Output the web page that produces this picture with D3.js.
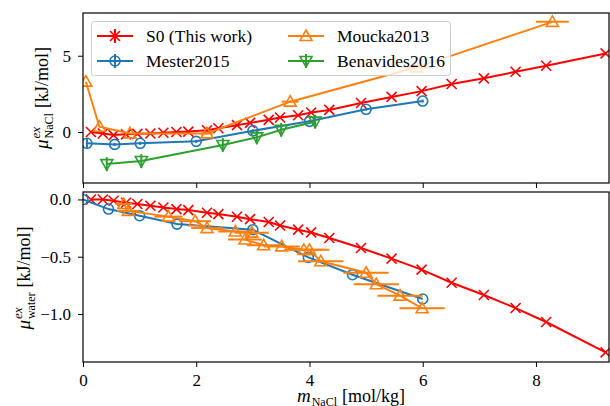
<!DOCTYPE html>
<html>
<head>
<meta charset="utf-8">
<script src="https://cdn.jsdelivr.net/npm/d3@7"></script>
<style>
  body { margin: 0; background: #fff; }
  text { font-family: "Liberation Serif", "DejaVu Serif", serif; fill: #000; }
</style>
</head>
<body>
<script>
// ---- data ----
// S0 (this work): same molalities in both panels
var s0X   = [0.14, 0.35, 0.54, 0.76, 0.96, 1.19, 1.42, 1.65, 1.86, 2.19, 2.39, 2.72, 2.95, 3.28, 3.48, 3.80, 4.03, 4.35, 4.91, 5.45, 5.98, 6.51, 7.08, 7.64, 8.18, 9.23];
var s0Salt  = [0.0, -0.1, -0.2, -0.15, -0.12, -0.1, -0.05, 0.0, 0.03, 0.12, 0.25, 0.45, 0.6, 0.8, 0.95, 1.1, 1.28, 1.45, 1.9, 2.3, 2.68, 3.15, 3.52, 3.95, 4.34, 5.15];
var s0Water = [0.0, 0.0, -0.011, -0.029, -0.040, -0.055, -0.070, -0.084, -0.093, -0.116, -0.128, -0.151, -0.172, -0.197, -0.227, -0.264, -0.288, -0.337, -0.424, -0.517, -0.613, -0.727, -0.834, -0.948, -1.070, -1.335];

// Mester2015
var mesSaltX = [0.07, 0.56, 1.01, 2.0, 3.0, 4.0, 5.0, 6.0];
var mesSalt  = [-0.74, -0.81, -0.74, -0.61, 0.08, 0.7, 1.49, 2.03];
var mesSaltErr = [0.3, 0.1, 0.1, 0.1, 0.1, 0.1, 0.1, 0.1];
var mesWaterX = [0.0, 0.45, 1.0, 1.66, 3.0, 3.98, 4.76, 6.0];
var mesWater  = [0.0, -0.084, -0.142, -0.215, -0.264, -0.506, -0.657, -0.869];

// Moucka2013 (horizontal error bars)
var mouSaltX = [0.05, 0.29, 0.83, 2.19, 3.66, 5.89, 8.29];
var mouSalt  = [3.3, 0.35, -0.09, -0.09, 1.99, 4.24, 7.22];
var mouSaltXErr = [0, 0, 0, 0.1, 0.15, 0.28, 0.29];
var mouWaterX = [0.72, 0.80, 1.51, 1.98, 2.19, 2.69, 2.98, 2.86, 3.19, 3.51, 3.90, 4.0, 4.2, 5.0, 5.18, 5.6, 5.99];
var mouWater  = [-0.04, -0.10, -0.15, -0.19, -0.25, -0.28, -0.29, -0.35, -0.40, -0.41, -0.44, -0.44, -0.54, -0.64, -0.74, -0.84, -0.95];
var mouWaterXErr = [0.15, 0.2, 0.25, 0.28, 0.28, 0.3, 0.3, 0.3, 0.3, 0.32, 0.35, 0.35, 0.4, 0.4, 0.4, 0.4, 0.4];

// Benavides2016 (vertical error bars)
var benX = [0.42, 1.03, 2.47, 3.07, 3.5, 4.1];
var benSalt = [-2.1, -1.9, -0.85, -0.35, 0.15, 0.68];
var benErr = [0.45, 0.45, 0.45, 0.45, 0.45, 0.45];

var xTicks = [0, 2, 4, 6, 8];
var saltTicks = [0, 5];
var waterTicks = [0.0, -0.5, -1.0];

var legendNames = ["S0 (This work)", "Mester2015", "Moucka2013", "Benavides2016"];

var red = "#ff0000", blue = "#1f77b4", orange = "#ff7f0e", green = "#2ca02c";

// ---- layout ----
var W = 610, H = 406;
var left = 83, right = 609;
var top1 = 13, bot1 = 183, top2 = 192, bot2 = 362;

var svg = d3.select("body").append("svg").attr("width", W).attr("height", H);

var x = d3.scaleLinear().domain([0, 9.29]).range([left, right]);
var y1 = d3.scaleLinear().domain([-3.34, 7.8]).range([bot1, top1]);
var y2 = d3.scaleLinear().domain([-1.419, 0.065]).range([bot2, top2]);

var defs = svg.append("defs");
defs.append("clipPath").attr("id", "c1").append("rect")
  .attr("x", left).attr("y", top1).attr("width", right - left).attr("height", bot1 - top1);
defs.append("clipPath").attr("id", "c2").append("rect")
  .attr("x", left).attr("y", top2).attr("width", right - left).attr("height", bot2 - top2);

// marker drawing
function drawMarker(g, kind, cx, cy, col) {
  if (kind == "x") {
    var s = 5;
    g.append("path").attr("d", "M" + (cx - s) + "," + (cy - s) + "L" + (cx + s) + "," + (cy + s) +
        "M" + (cx - s) + "," + (cy + s) + "L" + (cx + s) + "," + (cy - s))
      .attr("stroke", col).attr("stroke-width", 1.6).attr("fill", "none");
  } else if (kind == "o") {
    g.append("circle").attr("cx", cx).attr("cy", cy).attr("r", 5)
      .attr("stroke", col).attr("stroke-width", 1.6).attr("fill", "none");
  } else if (kind == "^") {
    var r = 6;
    g.append("path").attr("d", "M" + cx + "," + (cy - r) + "L" + (cx + r) + "," + (cy + r * 0.75) +
        "L" + (cx - r) + "," + (cy + r * 0.75) + "Z")
      .attr("stroke", col).attr("stroke-width", 1.6).attr("fill", "none");
  } else if (kind == "v") {
    var r2 = 6;
    g.append("path").attr("d", "M" + cx + "," + (cy + r2) + "L" + (cx + r2) + "," + (cy - r2 * 0.75) +
        "L" + (cx - r2) + "," + (cy - r2 * 0.75) + "Z")
      .attr("stroke", col).attr("stroke-width", 1.6).attr("fill", "none");
  }
}

function drawSeries(clip, ys, xs, vs, col, kind, yerr, xerr) {
  var g = svg.append("g").attr("clip-path", "url(#" + clip + ")");
  var line = d3.line().x(function(d) { return x(d[0]); }).y(function(d) { return ys(d[1]); });
  var pts = xs.map(function(v, i) { return [v, vs[i]]; });
  g.append("path").datum(pts).attr("d", line)
    .attr("fill", "none").attr("stroke", col).attr("stroke-width", 2);
  pts.forEach(function(p, i) {
    if (yerr && yerr[i]) {
      g.append("line").attr("x1", x(p[0])).attr("x2", x(p[0]))
        .attr("y1", ys(p[1] - yerr[i])).attr("y2", ys(p[1] + yerr[i]))
        .attr("stroke", col).attr("stroke-width", 2);
    }
    if (xerr && xerr[i]) {
      g.append("line").attr("x1", x(p[0] - xerr[i])).attr("x2", x(p[0] + xerr[i]))
        .attr("y1", ys(p[1])).attr("y2", ys(p[1]))
        .attr("stroke", col).attr("stroke-width", 2);
    }
    drawMarker(g, kind, x(p[0]), ys(p[1]), col);
  });
}

// top panel
drawSeries("c1", y1, s0X, s0Salt, red, "x");
drawSeries("c1", y1, mesSaltX, mesSalt, blue, "o", mesSaltErr);
drawSeries("c1", y1, mouSaltX, mouSalt, orange, "^", null, mouSaltXErr);
drawSeries("c1", y1, benX, benSalt, green, "v", benErr);

// bottom panel
drawSeries("c2", y2, s0X, s0Water, red, "x");
drawSeries("c2", y2, mesWaterX, mesWater, blue, "o");
drawSeries("c2", y2, mouWaterX, mouWater, orange, "^", null, mouWaterXErr);

// axes
var fmt1 = d3.format("d");
var fmt2 = function(d) { return d3.format(".1f")(d).replace("-", "\u2212"); };

function styleAxis(g) {
  g.selectAll(".domain").remove();
  g.selectAll(".tick line").attr("stroke", "#000").attr("stroke-width", 1);
  g.selectAll(".tick text").style("font-family", '"Liberation Serif", serif').style("font-size", "17px");
}

svg.append("g").attr("transform", "translate(0," + bot1 + ")")
  .call(d3.axisBottom(x).tickValues(xTicks).tickSize(5).tickFormat(""))
  .call(styleAxis);
svg.append("g").attr("transform", "translate(0," + bot2 + ")")
  .call(d3.axisBottom(x).tickValues(xTicks).tickSize(5).tickPadding(7).tickFormat(fmt1))
  .call(styleAxis);
svg.append("g").attr("transform", "translate(" + left + ",0)")
  .call(d3.axisLeft(y1).tickValues(saltTicks).tickSize(5).tickPadding(7).tickFormat(fmt1))
  .call(styleAxis);
svg.append("g").attr("transform", "translate(" + left + ",0)")
  .call(d3.axisLeft(y2).tickValues(waterTicks).tickSize(5).tickPadding(7).tickFormat(fmt2))
  .call(styleAxis);

// frames
[[top1, bot1], [top2, bot2]].forEach(function(p) {
  svg.append("rect").attr("x", left).attr("y", p[0]).attr("width", right - left).attr("height", p[1] - p[0])
    .attr("fill", "none").attr("stroke", "#000").attr("stroke-width", 1.2);
});

// legend
var leg = svg.append("g");
leg.append("rect").attr("x", 91.5).attr("y", 21.5).attr("width", 359).attr("height", 54).attr("rx", 3)
  .attr("fill", "#fff").attr("fill-opacity", 0.8).attr("stroke", "#ccc").attr("stroke-width", 1);
var legItems = [
  {name: legendNames[0], col: red, kind: "x", vbar: true, hx: 97, ty: 36},
  {name: legendNames[1], col: blue, kind: "o", vbar: true, hx: 97, ty: 61},
  {name: legendNames[2], col: orange, kind: "^", vbar: false, hx: 288, ty: 36},
  {name: legendNames[3], col: green, kind: "v", vbar: true, hx: 288, ty: 61}
];
legItems.forEach(function(it) {
  leg.append("line").attr("x1", it.hx).attr("x2", it.hx + 36).attr("y1", it.ty).attr("y2", it.ty)
    .attr("stroke", it.col).attr("stroke-width", 2);
  if (it.vbar) {
    leg.append("line").attr("x1", it.hx + 18).attr("x2", it.hx + 18).attr("y1", it.ty - 7).attr("y2", it.ty + 7)
      .attr("stroke", it.col).attr("stroke-width", 2);
  }
  drawMarker(leg, it.kind, it.hx + 18, it.ty, it.col);
  leg.append("text").attr("x", it.hx + 49).attr("y", it.ty + 6)
    .style("font-size", "17.5px").text(it.name);
});

// axis labels
function muLabel(cx, cy, sub) {
  var g = svg.append("g");
  var t1 = g.append("text").attr("x", 0).attr("y", 0).style("font-size", "19px").style("font-style", "italic").text("\u03bc");
  var w1 = t1.node().getComputedTextLength();
  var t2 = g.append("text").attr("x", w1 + 1).attr("y", -8).style("font-size", "13px").style("font-style", "italic").text("ex");
  var t3 = g.append("text").attr("x", w1 + 1).attr("y", 5).style("font-size", "12px").text(sub);
  var w2 = Math.max(t2.node().getComputedTextLength(), t3.node().getComputedTextLength());
  var t4 = g.append("text").attr("x", w1 + w2 + 6).attr("y", 0).style("font-size", "18px").text("[kJ/mol]");
  var total = w1 + w2 + 6 + t4.node().getComputedTextLength();
  g.attr("transform", "translate(" + cx + "," + cy + ") rotate(-90) translate(" + (-total / 2) + ",0)");
}
muLabel(48, 98, "NaCl");
muLabel(30, 278, "water");

var xl = svg.append("g");
var m1 = xl.append("text").attr("x", 0).attr("y", 0).style("font-size", "19px").style("font-style", "italic").text("m");
var mw = m1.node().getComputedTextLength();
var m2 = xl.append("text").attr("x", mw + 1).attr("y", 4).style("font-size", "12px").text("NaCl");
var mw2 = m2.node().getComputedTextLength();
var m3 = xl.append("text").attr("x", mw + mw2 + 6).attr("y", 0).style("font-size", "18px").text("[mol/kg]");
var xtot = mw + mw2 + 6 + m3.node().getComputedTextLength();
xl.attr("transform", "translate(" + (351 - xtot / 2) + ",402)");
</script>
</body>
</html>
